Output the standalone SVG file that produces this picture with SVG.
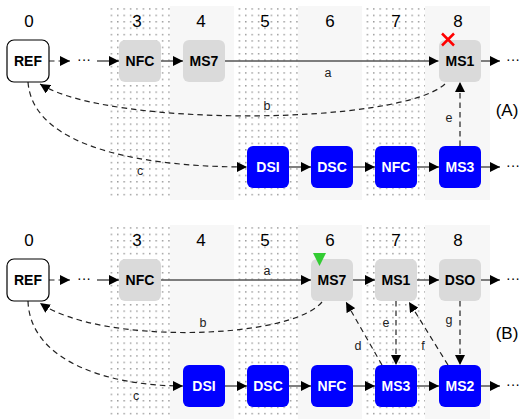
<svg xmlns="http://www.w3.org/2000/svg" width="520" height="419" viewBox="0 0 520 419">
  <style>
    .col-label { font-family: "Liberation Sans", Arial, sans-serif; font-size: 17px; fill: #000; text-anchor: middle; }
    .node-label { font-family: "Liberation Sans", Arial, sans-serif; font-size: 14px; font-weight: bold; text-anchor: middle; dominant-baseline: central; }
    .edge-label { font-family: "Liberation Sans", Arial, sans-serif; font-size: 12.5px; fill: #222; text-anchor: middle; dominant-baseline: central; }
    .panel-label { font-family: "Liberation Sans", Arial, sans-serif; font-size: 17px; fill: #000; text-anchor: middle; dominant-baseline: central; }
    .dots { font-family: "Liberation Sans", Arial, sans-serif; font-size: 14px; fill: #000; dominant-baseline: central; }
    .ref { fill: #fff; stroke: #000; stroke-width: 1.2; }
    .gray { fill: #dadada; }
    .blue { fill: #0000ff; }
    .gray-text { fill: #000; }
    .blue-text { fill: #fff; }
    .solid { fill: none; stroke: #555; stroke-width: 1.5; }
    .dashed { fill: none; stroke: #222; stroke-width: 1.2; stroke-dasharray: 5.5 4; }
    .col-shade { fill: #f7f7f7; }
  </style>
  <defs>
    <pattern id="dotgrid" x="0" y="0" width="6.4" height="6.4" patternUnits="userSpaceOnUse">
      <rect x="2" y="2" width="1.2" height="1.2" fill="#6a6a6a"/>
    </pattern>
    <marker id="arrow" viewBox="0 0 10 10" refX="10" refY="5" markerWidth="10" markerHeight="10" markerUnits="userSpaceOnUse" orient="auto">
      <path d="M0,0 L10,5 L0,10 z" fill="#000"/>
    </marker>
    <!-- column strip backdrop shared by both panels -->
    <g id="columns">
      <rect x="108" y="6" width="62" height="194" fill="url(#dotgrid)"/>
      <rect class="col-shade" x="170" y="6" width="64" height="194"/>
      <rect x="234" y="6" width="64" height="194" fill="url(#dotgrid)"/>
      <rect class="col-shade" x="298" y="6" width="64" height="194"/>
      <rect x="362" y="6" width="63" height="194" fill="url(#dotgrid)"/>
      <rect class="col-shade" x="425" y="6" width="65" height="194"/>
    </g>
  </defs>

  <!-- Panel (A) -->
  <g id="panel-a">
    <use href="#columns"/>
    <g id="a-col-labels">
      <text class="col-label" x="29" y="27">0</text>
      <text class="col-label" x="137" y="27">3</text>
      <text class="col-label" x="201" y="27">4</text>
      <text class="col-label" x="265" y="27">5</text>
      <text class="col-label" x="330" y="27">6</text>
      <text class="col-label" x="396" y="27">7</text>
      <text class="col-label" x="458" y="27">8</text>
    </g>

    <g id="a-connectors">
      <line class="dashed" x1="49" y1="61" x2="70" y2="61" marker-end="url(#arrow)"/>
      <line class="solid" x1="97" y1="61" x2="119" y2="61" marker-end="url(#arrow)"/>
      <line class="solid" x1="161" y1="61" x2="183" y2="61" marker-end="url(#arrow)"/>
      <line class="solid" x1="225" y1="61" x2="438.5" y2="61" marker-end="url(#arrow)"/>
      <line class="solid" x1="481" y1="61" x2="500" y2="61" marker-end="url(#arrow)"/>
      <path class="dashed" d="M445,84 C400,125 110,128 40,84" marker-end="url(#arrow)"/>
      <path class="dashed" d="M28,82 C33,150 150,167 247,167" marker-end="url(#arrow)"/>
      <line class="dashed" x1="460" y1="146" x2="460" y2="82" marker-end="url(#arrow)"/>
      <line class="solid" x1="289" y1="167" x2="311" y2="167" marker-end="url(#arrow)"/>
      <line class="solid" x1="353" y1="167" x2="375" y2="167" marker-end="url(#arrow)"/>
      <line class="solid" x1="417" y1="167" x2="439" y2="167" marker-end="url(#arrow)"/>
      <line class="solid" x1="481" y1="167" x2="500" y2="167" marker-end="url(#arrow)"/>
      <text class="dots" x="77" y="59">···</text>
      <text class="dots" x="506" y="59">···</text>
      <text class="dots" x="506" y="165">···</text>
      <text class="edge-label" x="328" y="73">a</text>
      <text class="edge-label" x="267" y="106">b</text>
      <text class="edge-label" x="140" y="171">c</text>
      <text class="edge-label" x="449" y="118">e</text>
    </g>

    <g id="a-REF"><rect class="ref" x="7" y="40" width="42" height="42" rx="7"/><text class="node-label gray-text" x="28" y="61">REF</text></g>
    <g id="a-NFC"><rect class="gray" x="119" y="40" width="42" height="42" rx="6"/><text class="node-label gray-text" x="140" y="61">NFC</text></g>
    <g id="a-MS7"><rect class="gray" x="183" y="40" width="42" height="42" rx="6"/><text class="node-label gray-text" x="204" y="61">MS7</text></g>
    <g id="a-MS1"><rect class="gray" x="439" y="40" width="42" height="42" rx="6"/><text class="node-label gray-text" x="460" y="61">MS1</text></g>
    <g id="a-DSI"><rect class="blue" x="247" y="146" width="42" height="42" rx="6"/><text class="node-label blue-text" x="268" y="167">DSI</text></g>
    <g id="a-DSC"><rect class="blue" x="311" y="146" width="42" height="42" rx="6"/><text class="node-label blue-text" x="332" y="167">DSC</text></g>
    <g id="a-NFC2"><rect class="blue" x="375" y="146" width="42" height="42" rx="6"/><text class="node-label blue-text" x="396" y="167">NFC</text></g>
    <g id="a-MS3"><rect class="blue" x="439" y="146" width="42" height="42" rx="6"/><text class="node-label blue-text" x="460" y="167">MS3</text></g>

    <g id="a-fail-mark" stroke="#ff0000" stroke-width="2.5" stroke-linecap="butt">
      <line x1="442" y1="33.5" x2="454" y2="45.5"/>
      <line x1="454" y1="33.5" x2="442" y2="45.5"/>
    </g>
    <text class="panel-label" x="507" y="110">(A)</text>
  </g>

  <!-- Panel (B) -->
  <g id="panel-b" transform="translate(0,219)">
    <use href="#columns"/>
    <g id="b-col-labels">
      <text class="col-label" x="29" y="27">0</text>
      <text class="col-label" x="137" y="27">3</text>
      <text class="col-label" x="201" y="27">4</text>
      <text class="col-label" x="265" y="27">5</text>
      <text class="col-label" x="330" y="27">6</text>
      <text class="col-label" x="396" y="27">7</text>
      <text class="col-label" x="458" y="27">8</text>
    </g>

    <g id="b-connectors">
      <line class="dashed" x1="49" y1="61" x2="70" y2="61" marker-end="url(#arrow)"/>
      <line class="solid" x1="97" y1="61" x2="119" y2="61" marker-end="url(#arrow)"/>
      <line class="solid" x1="161" y1="61" x2="311" y2="61" marker-end="url(#arrow)"/>
      <line class="solid" x1="353" y1="61" x2="375" y2="61" marker-end="url(#arrow)"/>
      <line class="solid" x1="417" y1="61" x2="439" y2="61" marker-end="url(#arrow)"/>
      <line class="solid" x1="481" y1="61" x2="500" y2="61" marker-end="url(#arrow)"/>
      <path class="dashed" d="M322,83 C290,121 100,126 40,84" marker-end="url(#arrow)"/>
      <path class="dashed" d="M28,82 C30,143 110,167 183,167" marker-end="url(#arrow)"/>
      <line class="dashed" x1="382" y1="146" x2="346" y2="83" marker-end="url(#arrow)"/>
      <line class="dashed" x1="396" y1="82" x2="396" y2="146" marker-end="url(#arrow)"/>
      <line class="dashed" x1="448" y1="146" x2="409" y2="83" marker-end="url(#arrow)"/>
      <line class="dashed" x1="460" y1="82" x2="460" y2="146" marker-end="url(#arrow)"/>
      <line class="solid" x1="225" y1="167" x2="247" y2="167" marker-end="url(#arrow)"/>
      <line class="solid" x1="289" y1="167" x2="311" y2="167" marker-end="url(#arrow)"/>
      <line class="solid" x1="353" y1="167" x2="375" y2="167" marker-end="url(#arrow)"/>
      <line class="solid" x1="417" y1="167" x2="439" y2="167" marker-end="url(#arrow)"/>
      <line class="solid" x1="481" y1="167" x2="500" y2="167" marker-end="url(#arrow)"/>
      <text class="dots" x="77" y="59">···</text>
      <text class="dots" x="506" y="59">···</text>
      <text class="dots" x="506" y="165">···</text>
      <text class="edge-label" x="267" y="52">a</text>
      <text class="edge-label" x="203" y="104">b</text>
      <text class="edge-label" x="136" y="177">c</text>
      <text class="edge-label" x="358" y="127">d</text>
      <text class="edge-label" x="386" y="104">e</text>
      <text class="edge-label" x="423" y="127">f</text>
      <text class="edge-label" x="449" y="101">g</text>
    </g>

    <g id="b-REF"><rect class="ref" x="7" y="40" width="42" height="42" rx="7"/><text class="node-label gray-text" x="28" y="61">REF</text></g>
    <g id="b-NFC"><rect class="gray" x="119" y="40" width="42" height="42" rx="6"/><text class="node-label gray-text" x="140" y="61">NFC</text></g>
    <g id="b-MS7"><rect class="gray" x="311" y="40" width="42" height="42" rx="6"/><text class="node-label gray-text" x="332" y="61">MS7</text></g>
    <g id="b-MS1"><rect class="gray" x="375" y="40" width="42" height="42" rx="6"/><text class="node-label gray-text" x="396" y="61">MS1</text></g>
    <g id="b-DSO"><rect class="gray" x="439" y="40" width="42" height="42" rx="6"/><text class="node-label gray-text" x="460" y="61">DSO</text></g>
    <g id="b-DSI"><rect class="blue" x="183" y="146" width="42" height="42" rx="6"/><text class="node-label blue-text" x="204" y="167">DSI</text></g>
    <g id="b-DSC"><rect class="blue" x="247" y="146" width="42" height="42" rx="6"/><text class="node-label blue-text" x="268" y="167">DSC</text></g>
    <g id="b-NFC2"><rect class="blue" x="311" y="146" width="42" height="42" rx="6"/><text class="node-label blue-text" x="332" y="167">NFC</text></g>
    <g id="b-MS3"><rect class="blue" x="375" y="146" width="42" height="42" rx="6"/><text class="node-label blue-text" x="396" y="167">MS3</text></g>
    <g id="b-MS2"><rect class="blue" x="439" y="146" width="42" height="42" rx="6"/><text class="node-label blue-text" x="460" y="167">MS2</text></g>

    <polygon id="b-start-mark" points="313,34 326,34 319.5,47" fill="#33cc33"/>
    <text class="panel-label" x="507" y="114">(B)</text>
  </g>
</svg>
